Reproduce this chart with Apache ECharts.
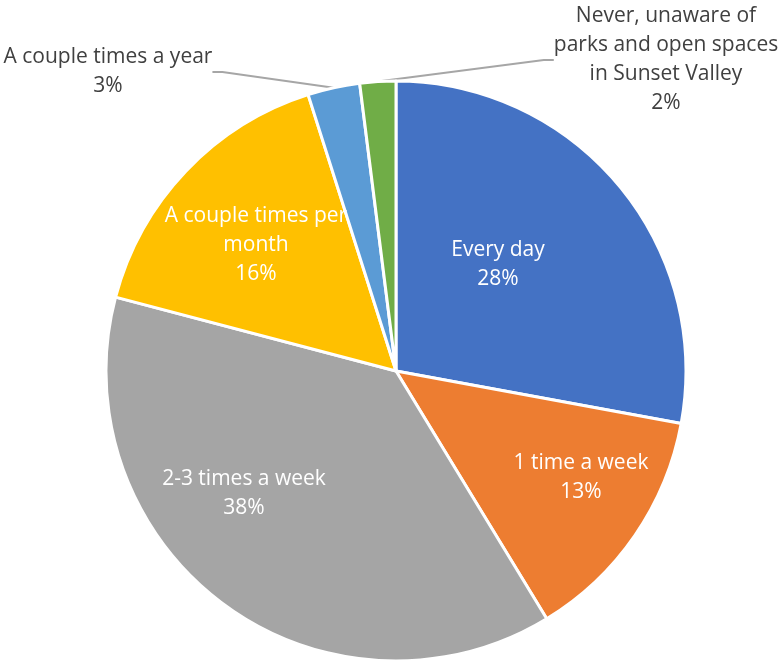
<!DOCTYPE html>
<html>
<head>
<meta charset="utf-8">
<script src="https://cdn.jsdelivr.net/npm/echarts@6/dist/echarts.min.js"></script>
<style>html,body{margin:0;padding:0;background:#fff}#c{width:778px;height:664px}</style>
</head>
<body>
<div id="c"></div>
<script>
const categories = ["Every day", "1 time a week", "2-3 times a week", "A couple times per\nmonth", "A couple times a year", "Never, unaware of\nparks and open spaces\nin Sunset Valley"];
const values = [27.9, 13.4, 37.8, 16.0, 2.9, 2.0];
const colors = ["#4472C4", "#ED7D31", "#A5A5A5", "#FFC000", "#5B9BD5", "#70AD47"];
const insideFlags = [true, true, true, true, false, false];
const labelSpots = [[498, 265], [581, 478], [244, 494], [256, 245], [108, 72], [666, 60]];

const chart = echarts.init(document.getElementById('c'));
chart.setOption({
  animation: false,
  series: [{
    type: 'pie',
    center: [396, 371],
    radius: [0, 290],
    startAngle: 90,
    clockwise: true,
    percentPrecision: 0,
    itemStyle: { borderColor: '#fff', borderWidth: 3 },
    label: {
      fontFamily: 'Open Sans',
      fontSize: 21,
      lineHeight: 29,
      align: 'center',
      overflow: 'none',
      formatter: '{b}\n{d}%'
    },
    labelLine: { lineStyle: { color: '#A6A6A6', width: 2 }, length: 20, length2: 10 },
    labelLayout: function (p) {
      const s = labelSpots[p.dataIndex];
      return { x: s[0], y: s[1], align: 'center', verticalAlign: 'middle' };
    },
    data: categories.map((c, i) => ({
      name: c,
      value: values[i],
      itemStyle: { color: colors[i] },
      label: insideFlags[i]
        ? { position: 'inside', color: '#fff' }
        : { position: 'outside', color: '#404040', overflow: 'none' },
      labelLine: { show: !insideFlags[i] }
    }))
  }]
});
</script>
</body>
</html>
